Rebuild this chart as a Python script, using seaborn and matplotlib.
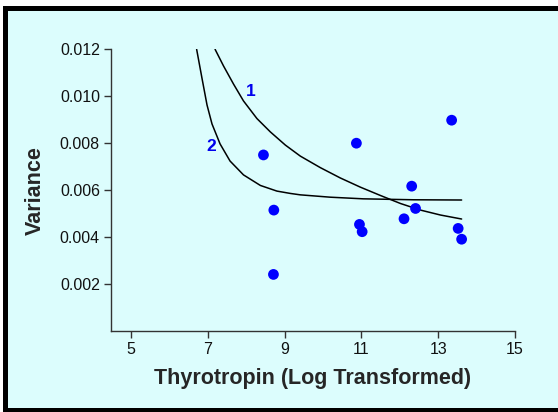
import matplotlib
matplotlib.use("Agg")
import matplotlib.pyplot as plt
from matplotlib.patches import Rectangle
import seaborn as sns
import pandas as pd

# Observed data points
thyrotropin = [8.45, 8.71, 8.72, 10.87, 10.95, 11.02, 12.11, 12.31, 12.41, 13.35, 13.52, 13.61]
variance = [0.00750, 0.00241, 0.00515, 0.00800, 0.00454, 0.00423, 0.00478, 0.00617, 0.00522, 0.00898, 0.00437, 0.00391]

# Fitted curve 1
curve1_x = [7.19, 7.41, 7.67, 7.93, 8.28, 8.63, 9.02, 9.41, 9.93, 10.45, 10.97, 11.50, 12.02, 12.54, 13.06, 13.61]
curve1_y = [0.01200, 0.01129, 0.01052, 0.00980, 0.00905, 0.00848, 0.00792, 0.00745, 0.00696, 0.00652,
            0.00613, 0.00577, 0.00543, 0.00515, 0.00494, 0.00477]

# Fitted curve 2
curve2_x = [6.71, 6.85, 6.98, 7.11, 7.32, 7.58, 7.93, 8.37, 8.80, 9.15, 9.41, 10.19, 11.05, 12.36, 13.61]
curve2_y = [0.01200, 0.01076, 0.00963, 0.00882, 0.00797, 0.00724, 0.00665, 0.00620, 0.00596, 0.00586,
            0.00580, 0.00570, 0.00563, 0.00559, 0.00558]

x_ticks = [5, 7, 9, 11, 13, 15]
y_ticks = [0.002, 0.004, 0.006, 0.008, 0.010, 0.012]
y_tick_labels = ["0.002", "0.004", "0.006", "0.008", "0.010", "0.012"]

BG = "#dcfdfd"
sns.set_style("ticks", {"axes.facecolor": BG})
plt.rcParams["font.family"] = ["Liberation Sans", "DejaVu Sans"]

W, H = 558, 412
fig = plt.figure(figsize=(W / 100, H / 100), dpi=100, facecolor="white")
# frame
fig.patches.append(Rectangle((2.5 / W, 0), 1.2, 406 / H, transform=fig.transFigure,
                             facecolor="black", edgecolor="none", zorder=-2))
fig.patches.append(Rectangle((7.5 / W, 4.3 / H), 1.2, (401 - 4.3) / H, transform=fig.transFigure,
                             facecolor=BG, edgecolor="none", zorder=-1))

ax = fig.add_axes([111 / W, 1 - 331 / H, (515 - 111) / W, (331 - 49.3) / H])
ax.set_facecolor(BG)

pts = pd.DataFrame({"x": thyrotropin, "y": variance})
c1 = pd.DataFrame({"x": curve1_x, "y": curve1_y})
c2 = pd.DataFrame({"x": curve2_x, "y": curve2_y})

sns.lineplot(data=c1, x="x", y="y", color="black", linewidth=1.1, sort=False, ax=ax)
sns.lineplot(data=c2, x="x", y="y", color="black", linewidth=1.1, sort=False, ax=ax)
sns.scatterplot(data=pts, x="x", y="y", color="#0000ff", s=60, edgecolor="none", ax=ax, zorder=3)

ax.text(8.13, 0.01022, "1", color="#0000ee", fontsize=12.5, fontweight="bold", ha="center", va="center")
ax.text(7.09, 0.00785, "2", color="#0000ee", fontsize=12.5, fontweight="bold", ha="center", va="center")

ax.set_xlim(4.48, 15)
ax.set_ylim(0, 0.012)
ax.set_xticks(x_ticks)
ax.set_yticks(y_ticks)
ax.set_yticklabels(y_tick_labels)
ax.tick_params(axis="both", direction="out", length=5, width=1, colors="#333333",
               labelsize=11.5, labelcolor="#111111", pad=3)
for side in ["top", "right"]:
    ax.spines[side].set_visible(False)
for side in ["left", "bottom"]:
    ax.spines[side].set_color("#333333")
    ax.spines[side].set_linewidth(1)

ax.set_xlabel("Thyrotropin (Log Transformed)", fontsize=15.5, fontweight="bold", labelpad=8)
ax.set_ylabel("Variance", fontsize=15.5, fontweight="bold", labelpad=10)

fig.savefig("out.png", dpi=100, facecolor="white")
